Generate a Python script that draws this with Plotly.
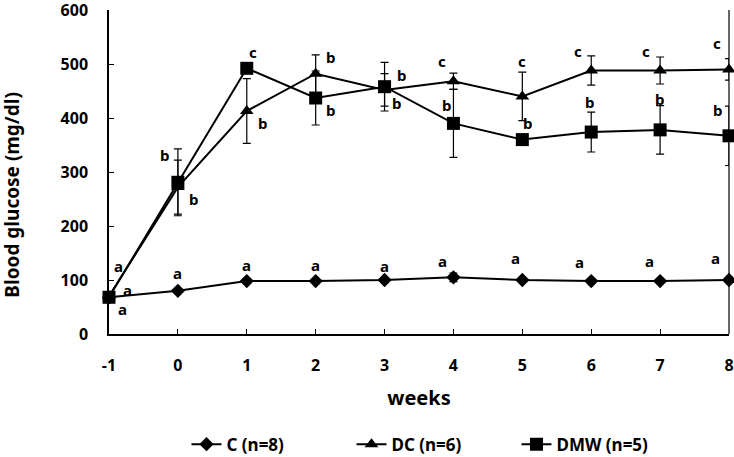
import plotly.graph_objects as go

weeks = [-1, 0, 1, 2, 3, 4, 5, 6, 7, 8]
week_labels = ["-1", "0", "1", "2", "3", "4", "5", "6", "7", "8"]
c_vals = [68, 80, 98, 98, 100, 105, 100, 98, 98, 100]
c_err = [4, 4, 4, 4, 4, 8, 4, 4, 4, 4]
dc_vals = [70, 272, 413, 482, 452, 468, 440, 488, 488, 490]
dc_err = [5, 50, 60, 35, 30, 15, 45, 27, 25, 20]
dmw_vals = [68, 281, 492, 437, 458, 390, 360, 374, 378, 367]
dmw_err = [5, 62, 8, 50, 45, 63, 5, 37, 45, 55]

# significance letters
letters_week = [-1, -1, -1, 0, 0, 1, 1, 2, 2, 3, 3, 4, 4, 5, 5, 6, 6, 7, 7, 8, 8,
                0, 1, 2, 3, 4, 5, 6, 7, 8]
letters_text = ["a", "a", "a", "b", "b", "c", "b", "b", "b", "b", "b", "c", "b", "c", "b",
                "c", "b", "c", "b", "c", "b",
                "a", "a", "a", "a", "a", "a", "a", "a", "a"]
letters_val = [126, 82, 46, 332, 250, 522, 390, 513, 414, 480, 427, 505, 425, 505, 390,
               524, 430, 524, 436, 538, 414,
               113, 128, 128, 126, 135, 140, 133, 135, 140]
letters_dx = [0.14, 0.27, 0.2, -0.19, 0.22, 0.09, 0.23, 0.22, 0.22, 0.25, 0.18, -0.17, -0.1,
              0.0, 0.07, -0.19, -0.03, -0.2, -0.01, -0.17, -0.17,
              0, 0, 0, 0, -0.16, -0.1, -0.17, -0.15, -0.19]

FONT = "Noto Sans"
fig = go.Figure()

def add(name, y, err, symbol, size):
    fig.add_trace(go.Scatter(
        x=weeks, y=y, name=name, mode="lines+markers",
        line=dict(color="black", width=2),
        marker=dict(symbol=symbol, size=size, color="black"),
        error_y=dict(type="data", array=err, visible=True, color="black", thickness=1.2, width=4),
        cliponaxis=False,
    ))

add("C (n=8)", c_vals, c_err, "diamond", 11)
add("DC (n=6)", dc_vals, dc_err, "triangle-up", 12)
add("DMW (n=5)", dmw_vals, dmw_err, "square", 13)

for w, t, v, dx in zip(letters_week, letters_text, letters_val, letters_dx):
    fig.add_annotation(x=w + dx, y=v, text=t, showarrow=False, xref="x", yref="y",
                       font=dict(family=FONT, size=15, color="black", weight="bold"),
                       height=16)

fig.add_annotation(x=-0.156, y=0.431, xref="paper", yref="paper", xanchor="center", yanchor="middle",
                   text="Blood glucose (mg/dl)", textangle=-90, showarrow=False,
                   font=dict(family=FONT, size=19, color="black", weight="bold"))

fig.add_shape(type="line", xref="paper", yref="paper", x0=1, x1=1, y0=0, y1=1,
              line=dict(color="black", width=1.2))

fig.update_layout(
    width=734, height=457,
    margin=dict(l=109, r=5, t=10, b=123, autoexpand=False),
    paper_bgcolor="white", plot_bgcolor="white",
    font=dict(family=FONT, size=16, color="black", weight="bold"),
    showlegend=True,
    legend=dict(orientation="h", x=0.125, y=0.027, yref="container", xanchor="left", yanchor="middle",
                entrywidth=120, font=dict(family=FONT, size=17, weight="bold")),
    xaxis=dict(range=[-1, 8], tickvals=weeks, ticktext=week_labels, showline=True,
               linecolor="black", linewidth=1.5,
               ticks="inside", ticklen=5, tickcolor="black", showgrid=False, zeroline=False,
               automargin=False, ticklabelstandoff=16, ticklabeloverflow="allow",
               title=dict(text="weeks", font=dict(size=20, family=FONT, weight="bold"), standoff=16),
               tickfont=dict(size=16)),
    yaxis=dict(range=[0, 600], dtick=100, showline=True, linecolor="black", linewidth=1.5,
               ticks="inside", ticklen=5, tickcolor="black", showgrid=False, zeroline=False,
               automargin=False, tickfont=dict(size=16), ticklabelstandoff=16,
               ticklabeloverflow="allow"),
)

fig.write_html("out.html", config={"displayModeBar": False},
               post_script="document.body.style.margin='0';document.body.style.overflow='hidden';")
